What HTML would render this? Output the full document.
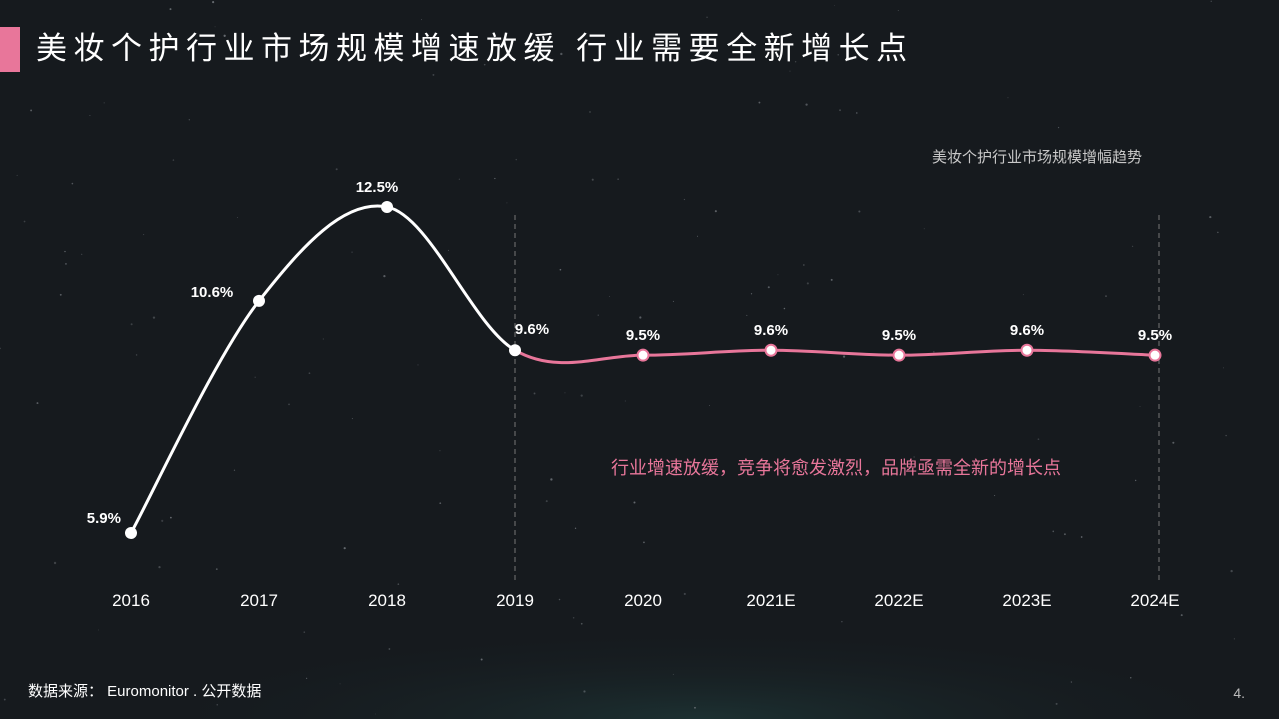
<!DOCTYPE html>
<html><head><meta charset="utf-8"><style>
html,body{margin:0;width:1279px;height:719px;overflow:hidden}
body{background:#161a1e;font-family:"Liberation Sans","Noto Sans CJK SC",sans-serif;position:relative}
.bar{position:absolute;left:0;top:27px;width:20px;height:45px;background:#e8769a}
.title{position:absolute;left:36px;top:29px;font-size:31px;color:#fff;letter-spacing:6.5px;white-space:nowrap;line-height:40px}
svg{position:absolute;left:0;top:0;overflow:hidden}
</style></head><body>
<div class="bar"></div>
<div class="title">美妆个护行业市场规模增速放缓&nbsp;行业需要全新增长点</div>
<svg id="chart" width="1279" height="719">
<defs><radialGradient id="glow" cx="0.5" cy="1" r="0.6"><stop offset="0" stop-color="#1f3a3a" stop-opacity="0.7"/><stop offset="1" stop-color="#161a1e" stop-opacity="0"/></radialGradient></defs>
<rect x="200" y="560" width="1000" height="159" fill="url(#glow)"/>
<text x="1037" y="162" font-size="15" fill="#c8c8c8" text-anchor="middle">美妆个护行业市场规模增幅趋势</text>
<text x="836" y="474" font-size="18" fill="#e8769a" text-anchor="middle">行业增速放缓，竞争将愈发激烈，品牌亟需全新的增长点</text>
<text x="28" y="696" font-size="15" fill="#fff">数据来源： Euromonitor . 公开数据</text>
<text x="1245" y="698" font-size="14" fill="#bbb" text-anchor="end">4.</text>
<g id="stars"></g><g id="plot"></g>
</svg>
<script>
const categories=["2016","2017","2018","2019","2020","2021E","2022E","2023E","2024E"];
const values=[5.9,10.6,12.5,9.6,9.5,9.6,9.5,9.6,9.5];
const labels=["5.9%","10.6%","12.5%","9.6%","9.5%","9.6%","9.5%","9.6%","9.5%"];
const actualCount=4;
const NS="http://www.w3.org/2000/svg";
const xs=i=>131+i*128;
const ys=v=>533-(v-5.9)*49.4;
function mk(t,a,p){const e=document.createElementNS(NS,t);for(const k in a)e.setAttribute(k,a[k]);p.appendChild(e);return e;}
const stars=document.getElementById('stars');
let s=7;function r(){s=(s*9301+49297)%233280;return s/233280;}
for(let i=0;i<140;i++){mk('circle',{cx:r()*1275,cy:r()*715,r:0.4+r()*0.8,fill:'#8a8f95',opacity:0.3+r()*0.4},stars);}
const g=document.getElementById('plot');
[3,8].forEach(i=>{const l=mk('line',{x1:i==8?xs(i)+4:xs(i),x2:i==8?xs(i)+4:xs(i),y1:215,y2:580,stroke:'#777','stroke-dasharray':'5,4','stroke-width':1},g);

});
const pts=values.map((v,i)=>[xs(i),ys(v)]);
function seg(a,b){const p0=pts[Math.max(a-1,0)],p1=pts[a],p2=pts[b],p3=pts[Math.min(b+1,pts.length-1)];
return `C${p1[0]+(p2[0]-p0[0])/6},${p1[1]+(p2[1]-p0[1])/6} ${p2[0]-(p3[0]-p1[0])/6},${p2[1]-(p3[1]-p1[1])/6} ${p2[0]},${p2[1]}`;}
let d1=`M${pts[0][0]},${pts[0][1]}`;for(let i=0;i<actualCount-1;i++)d1+=seg(i,i+1);
let d2=`M${pts[actualCount-1][0]},${pts[actualCount-1][1]}`;for(let i=actualCount-1;i<pts.length-1;i++)d2+=seg(i,i+1);
const l2=mk('path',{d:d2,fill:'none',stroke:'#e8769a','stroke-width':3},g);


const l1=mk('path',{d:d1,fill:'none',stroke:'#fff','stroke-width':3},g);


pts.forEach((p,i)=>{
const c=mk('circle',{cx:p[0],cy:p[1],r:i<actualCount?6:5.5,fill:'#fff',stroke:i<actualCount?'#fff':'#e8769a','stroke-width':i<actualCount?0:2},g);


let lx=p[0],ly=p[1]-15,anc='middle';
if(i==0){lx=p[0]-10;ly=p[1]-10;anc='end';}
else if(i==1){lx=p[0]-47;ly=p[1]-4;}
else if(i==2){lx=p[0]-10;ly=p[1]-15;}
else if(i==3){lx=p[0]+17;ly=p[1]-16;}
const t=mk('text',{x:lx,y:ly,'font-size':15,'font-weight':'bold',fill:'#fff','text-anchor':anc},g);t.textContent=labels[i];


const xt=mk('text',{x:p[0],y:606,'font-size':17,fill:'#fff','text-anchor':'middle'},g);xt.textContent=categories[i];


});
</script>
</body></html>
